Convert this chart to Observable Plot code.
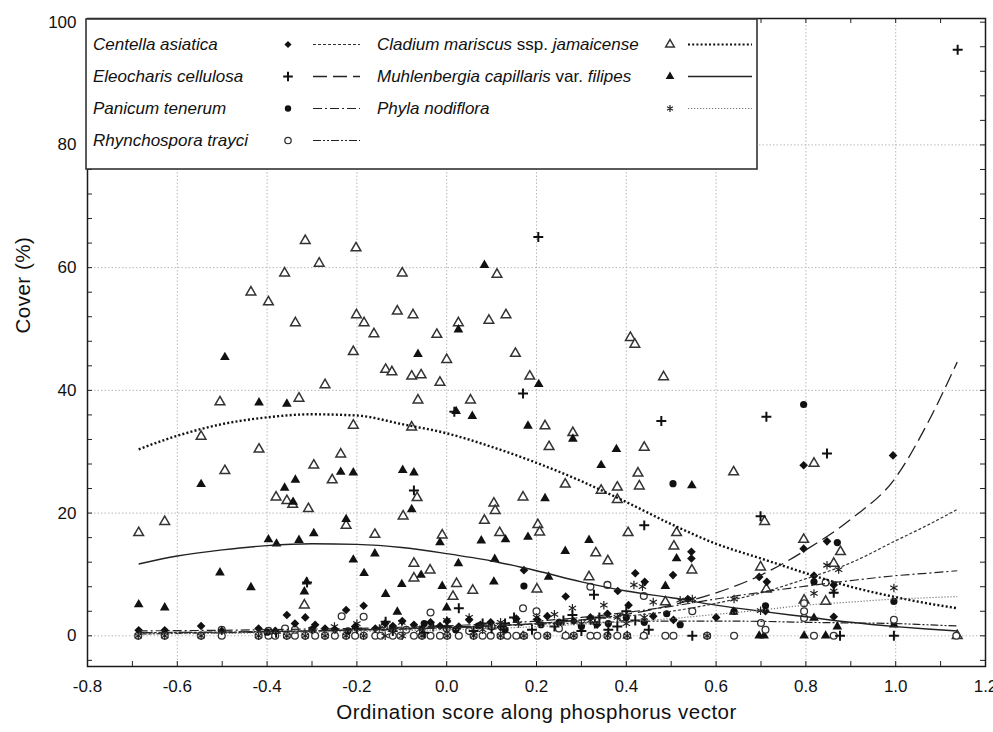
<!DOCTYPE html>
<html><head><meta charset="utf-8">
<script src="https://cdn.jsdelivr.net/npm/d3@7"></script>
<script src="https://cdn.jsdelivr.net/npm/@observablehq/plot@0.6"></script>
<style>body{margin:0;background:#fff}#chart{width:993px;height:732px}</style>
</head><body><div id="chart"></div>
<script>
// ---------- data ----------
const xTicks = [-0.8,-0.6,-0.4,-0.2,0.0,0.2,0.4,0.6,0.8,1.0,1.2];
const xGrid = [-0.6,-0.4,-0.2,0.0,0.2,0.4,0.6,0.8,1.0];
const xMinor = [-0.7,-0.6,-0.5,-0.4,-0.3,-0.2,-0.1,0.0,0.1,0.2,0.3,0.4,0.5,0.6,0.7,0.8,0.9,1.0,1.1];
const yTicks = [0,20,40,60,80,100];
const yGrid = [0,20,40,60,80];
const yMinor = [-4,0,4,8,12,16,20,24,28,32,36,40,44,48,52,56,60,64,68,72,76,80,84,88,92,96,100];

const cladium = [[-0.686,16.8],[-0.628,18.6],[-0.547,32.5],[-0.505,38.1],[-0.494,26.9],[-0.436,56.0],[-0.397,54.4],[-0.418,30.4],[-0.380,22.6],[-0.361,59.1],[-0.337,51.0],[-0.356,22.0],[-0.343,21.4],[-0.329,38.7],[-0.315,64.4],[-0.308,20.7],[-0.317,5.0],[-0.296,27.8],[-0.284,60.7],[-0.271,40.9],[-0.255,25.4],[-0.236,29.6],[-0.224,18.0],[-0.208,46.3],[-0.208,34.3],[-0.202,63.2],[-0.201,52.3],[-0.184,51.0],[-0.162,49.2],[-0.160,16.5],[-0.136,43.4],[-0.122,43.0],[-0.110,52.9],[-0.099,59.1],[-0.075,52.3],[-0.078,42.3],[-0.057,42.5],[-0.064,38.4],[-0.078,34.0],[-0.097,19.5],[-0.066,22.5],[-0.073,11.8],[-0.073,9.4],[-0.037,10.7],[-0.022,49.1],[-0.015,41.3],[0.000,45.0],[-0.010,16.4],[0.022,8.5],[0.014,6.4],[0.026,51.0],[0.053,38.4],[0.058,7.4],[0.084,18.8],[0.105,21.6],[0.108,20.4],[0.112,58.9],[0.094,51.4],[0.118,16.8],[0.132,52.3],[0.153,46.0],[0.170,22.6],[0.185,42.3],[0.219,34.2],[0.228,30.8],[0.203,18.1],[0.207,16.9],[0.201,7.6],[0.264,24.7],[0.281,33.1],[0.332,13.5],[0.344,23.7],[0.359,12.2],[0.317,9.6],[0.380,24.2],[0.380,22.2],[0.409,48.6],[0.419,47.5],[0.440,30.7],[0.426,26.5],[0.429,24.4],[0.404,16.8],[0.483,42.2],[0.512,16.8],[0.506,14.6],[0.546,10.7],[0.487,5.5],[0.639,26.7],[0.699,11.2],[0.708,18.6],[0.712,7.6],[0.795,15.7],[0.818,28.1],[0.877,13.7],[0.862,11.8],[0.796,5.8],[0.844,5.6],[1.137,0.0]];

const muhlenbergia = [[-0.686,5.1],[-0.628,4.6],[-0.547,24.7],[-0.494,45.4],[-0.505,10.3],[-0.436,7.9],[-0.418,38.0],[-0.356,37.8],[-0.397,15.7],[-0.379,15.0],[-0.361,24.1],[-0.342,21.8],[-0.337,25.4],[-0.329,15.6],[-0.296,16.7],[-0.317,7.2],[-0.312,8.8],[-0.236,26.7],[-0.208,26.6],[-0.224,19.0],[-0.208,12.4],[-0.184,10.2],[-0.160,13.4],[-0.136,6.8],[-0.110,3.9],[-0.098,27.0],[-0.073,26.6],[-0.078,20.6],[-0.064,45.9],[-0.100,8.4],[-0.057,9.9],[-0.010,8.1],[-0.015,15.2],[0.000,4.6],[0.026,49.9],[0.021,36.6],[0.026,11.8],[0.057,35.8],[0.077,15.5],[0.084,60.4],[0.107,12.5],[0.105,8.8],[0.131,15.7],[0.181,34.2],[0.181,16.1],[0.205,41.0],[0.219,22.4],[0.227,9.6],[0.264,13.8],[0.281,32.1],[0.317,15.6],[0.344,27.8],[0.378,30.4],[0.512,12.6],[0.546,24.5],[0.487,8.1],[0.639,3.9],[0.696,0],[0.707,0],[0.796,0],[0.844,0],[0.818,2.9],[0.870,1.5],[0.996,1.8],[0.170,0],[0.265,0],[0.402,0],[0.439,0]];

const eleocharis = [[-0.311,8.7],[-0.380,0.5],[-0.200,1.2],[-0.136,2.3],[-0.120,0.8],[-0.073,23.7],[-0.050,0.5],[-0.030,1.5],[0.000,1.5],[0.017,36.5],[0.027,4.5],[0.060,0.8],[0.080,2.0],[0.100,1.2],[0.130,2.0],[0.150,3.0],[0.170,39.5],[0.190,1.0],[0.204,65.0],[0.240,1.5],[0.260,2.5],[0.280,3.4],[0.300,0.8],[0.328,6.7],[0.330,2.0],[0.340,3.0],[0.360,1.0],[0.380,1.5],[0.400,4.0],[0.420,2.5],[0.440,18.0],[0.450,1.0],[0.478,35.0],[0.547,0],[0.699,19.5],[0.712,35.7],[0.847,29.7],[0.862,7.0],[0.876,0],[0.996,0],[1.138,95.5]];

const centella = [[-0.686,0.9],[-0.628,0.9],[-0.547,1.6],[-0.501,0.8],[-0.419,1.2],[-0.382,0.8],[-0.356,3.4],[-0.338,2.0],[-0.315,3.0],[-0.293,1.8],[-0.271,1.2],[-0.249,1.0],[-0.224,4.2],[-0.204,1.5],[-0.185,4.9],[-0.159,1.2],[-0.137,2.0],[-0.120,1.6],[-0.099,2.4],[-0.073,1.8],[-0.055,1.2],[-0.036,2.2],[-0.015,1.6],[0.001,2.4],[0.027,1.5],[0.050,2.6],[0.075,1.8],[0.098,2.2],[0.120,1.4],[0.155,2.8],[0.172,10.7],[0.202,2.6],[0.224,3.2],[0.265,6.4],[0.283,2.4],[0.320,3.0],[0.335,1.8],[0.358,3.6],[0.381,7.3],[0.405,5.0],[0.420,10.2],[0.441,8.8],[0.460,3.2],[0.504,9.9],[0.505,2.6],[0.537,6.0],[0.545,13.7],[0.545,12.6],[0.600,3.0],[0.696,9.6],[0.713,8.8],[0.710,4.0],[0.795,14.2],[0.795,27.8],[0.818,9.8],[0.847,15.4],[0.862,8.3],[0.862,3.1],[0.994,29.4]];

const panicum = [[-0.400,0.6],[-0.300,1.0],[-0.220,0.8],[-0.120,1.2],[-0.050,2.0],[0.020,1.0],[0.070,1.6],[0.130,1.0],[0.172,8.1],[0.210,1.8],[0.250,2.2],[0.300,1.5],[0.360,2.0],[0.400,3.0],[0.440,2.2],[0.490,3.6],[0.504,24.8],[0.520,1.8],[0.640,4.0],[0.710,4.9],[0.795,37.7],[0.818,8.8],[0.870,15.2],[0.996,5.6]];

const rhynchospora = [[-0.687,0],[-0.628,0],[-0.547,0],[-0.501,0],[-0.419,0],[-0.397,0],[-0.382,0],[-0.356,0],[-0.338,0],[-0.315,0],[-0.293,0],[-0.271,0],[-0.249,0],[-0.224,0],[-0.204,0],[-0.185,0],[-0.159,0],[-0.147,0],[-0.120,0],[-0.103,0],[-0.073,0],[-0.055,0],[-0.036,0],[-0.015,0],[0.001,0],[0.027,0],[0.060,0],[0.080,0],[0.098,0],[0.120,0],[0.135,0],[0.155,0],[0.172,0],[0.202,0],[0.224,0],[0.265,0],[0.283,0],[0.320,0],[0.335,0],[0.358,0],[0.380,0],[0.402,0],[0.439,0],[0.487,0],[0.505,0],[0.580,0],[0.640,0],[0.818,0],[0.862,0],[1.135,0],
 [-0.501,1.0],[-0.397,0.8],[-0.360,1.2],[-0.338,1.0],[-0.234,3.2],[-0.185,3.1],[-0.140,1.4],[-0.090,1.0],[-0.036,3.8],[0.000,1.2],[0.050,0.8],[0.100,1.5],[0.170,4.5],[0.200,4.0],[0.250,1.2],[0.320,8.0],[0.358,8.3],[0.390,3.0],[0.439,6.5],[0.547,4.0],[0.700,2.1],[0.710,1.0],[0.796,5.3],[0.796,4.0],[0.796,2.9],[0.844,8.7],[0.996,2.6]];

const phyla = [[-0.687,0],[-0.628,0],[-0.547,0],[-0.419,0],[-0.356,0],[-0.315,0],[-0.271,0],[-0.224,0],[-0.185,0],[-0.137,0],[-0.099,0],[-0.055,0],[0.001,0],[0.060,0],[0.120,0],[0.172,0],[0.224,0],[0.283,0],[0.358,0],[0.402,0],[0.580,0],
 [-0.300,1.0],[-0.250,1.5],[-0.200,2.0],[-0.150,1.2],[-0.100,2.2],[-0.060,1.0],[0.000,2.5],[0.050,3.0],[0.080,1.0],[0.120,2.2],[0.160,2.0],[0.200,3.0],[0.240,3.5],[0.280,4.5],[0.300,2.0],[0.320,2.5],[0.350,5.0],[0.380,3.0],[0.400,2.0],[0.417,8.3],[0.436,8.0],[0.440,3.0],[0.460,5.5],[0.520,5.8],[0.547,6.0],[0.640,6.0],[0.699,4.1],[0.818,6.9],[0.847,11.5],[0.862,7.3],[0.873,10.8],[0.996,7.8]];

// fitted curves, sampled along the score axis
const curveX = [-0.686,-0.6,-0.5,-0.4,-0.3,-0.2,-0.1,0.0,0.1,0.2,0.3,0.4,0.5,0.6,0.7,0.8,0.9,1.0,1.07,1.137];
const cladiumFit      = [30.4,32.6,34.5,35.6,36.1,35.9,34.5,33.0,30.8,28.2,25.2,21.8,18.2,15.0,12.6,10.2,8.0,6.3,5.3,4.5];
const muhlenbergiaFit = [11.7,13.0,14.0,14.7,15.0,14.9,14.4,13.4,12.2,10.6,8.8,7.3,6.2,5.0,4.0,3.1,2.2,1.5,1.1,0.8];
const eleocharisFit   = [0.5,0.55,0.6,0.7,0.8,0.95,1.1,1.3,1.6,2.0,2.6,3.5,5.0,7.0,9.9,14.0,19.0,25.8,34.5,44.6];
const centellaFit     = [0.5,0.55,0.6,0.7,0.8,0.9,1.1,1.3,1.6,2.0,2.5,3.2,4.0,5.3,7.0,9.3,11.9,15.5,18.0,20.6];
const panicumFit      = [0.8,0.85,0.9,1.0,1.1,1.2,1.4,1.6,2.0,2.4,3.0,3.8,4.8,6.0,7.1,8.1,9.0,9.8,10.2,10.6];
const rhynchosporaFit = [0.3,0.4,0.5,0.6,0.8,1.0,1.2,1.4,1.65,1.9,2.1,2.3,2.4,2.4,2.35,2.2,2.1,2.0,1.8,1.6];
const phylaFit        = [0.3,0.35,0.4,0.5,0.6,0.7,0.85,1.0,1.2,1.5,1.9,2.3,2.8,3.5,4.2,5.0,5.5,6.0,6.2,6.4];

// ---------- build ----------
const W = 993, H = 732, mL = 87, mR = 8, mT = 18, mB = 66;
const innerW = W - mL - mR, innerH = H - mT - mB;
const FONT = "'Liberation Sans', Arial, sans-serif";
const rows = pairs => pairs.map(([x, y]) => ({x, y}));
const fit = ys => curveX.map((x, i) => ({x, y: ys[i]}));

const styles = {
  centella:     {symbol: "diamond2", fill: "#111", stroke: "none", r: 3.9, dash: "3,2", lw: 1.2, lc: "#333"},
  eleocharis:   {symbol: "plus", fill: "none", stroke: "#111", sw: 2, r: 3.3, dash: "14,6", lw: 1.3, lc: "#222"},
  panicum:      {symbol: "circle", fill: "#111", stroke: "none", r: 3.6, dash: "9,3,2,3", lw: 1.2, lc: "#222"},
  rhynchospora: {symbol: "circle", fill: "white", stroke: "#333", sw: 1.3, r: 3.4, dash: "8,2,2,2,2,2", lw: 1.2, lc: "#222"},
  cladium:      {symbol: "triangle", fill: "white", stroke: "#333", sw: 1.5, r: 3.6, dash: "2,2.2", lw: 2.4, lc: "#111"},
  muhlenbergia: {symbol: "triangle", fill: "#111", stroke: "none", r: 3.6, dash: null, lw: 1.4, lc: "#222"},
  phyla:        {symbol: "asterisk", fill: "none", stroke: "#222", sw: 1.2, r: 4.0, dash: "1.2,1.8", lw: 1.2, lc: "#777"}
};
const pts = {cladium, muhlenbergia, rhynchospora, phyla, panicum, centella, eleocharis};
const fits = {cladium: cladiumFit, muhlenbergia: muhlenbergiaFit, eleocharis: eleocharisFit, centella: centellaFit,
  panicum: panicumFit, rhynchospora: rhynchosporaFit, phyla: phylaFit};

const dotMarks = Object.keys(pts).map(k => {
  const s = styles[k];
  return Plot.dot(rows(pts[k]), {x: "x", y: "y", symbol: s.symbol, r: s.r, fill: s.fill,
    stroke: s.stroke, strokeWidth: s.sw || 1});
});
const lineMarks = Object.keys(fits).map(k => {
  const s = styles[k];
  return Plot.line(fit(fits[k]), {x: "x", y: "y", curve: "monotone-x", stroke: s.lc,
    strokeWidth: s.lw, strokeDasharray: s.dash || undefined, strokeLinecap: "butt"});
});

const chart = Plot.plot({
  width: W, height: H, marginLeft: mL, marginRight: mR, marginTop: mT, marginBottom: mB,
  x: {domain: [-0.8, 1.2]},
  y: {domain: [-5, 100.6]},
  style: {fontFamily: FONT, background: "white", color: "#111"},
  marks: [
    Plot.gridX(xGrid, {stroke: "#b8b8b8", strokeOpacity: 1, strokeDasharray: "1.5,2"}),
    Plot.gridY(yGrid, {stroke: "#b8b8b8", strokeOpacity: 1, strokeDasharray: "1.5,2"}),
    ...dotMarks,
    ...lineMarks,
    Plot.tickX(xMinor, {insetTop: innerH - 5, stroke: "#222"}),
    Plot.tickX(xMinor, {insetBottom: innerH - 5, stroke: "#222"}),
    Plot.tickY(yMinor, {insetRight: innerW - 5, stroke: "#222"}),
    Plot.tickY(yMinor, {insetLeft: innerW - 5, stroke: "#222"}),
    Plot.axisX(xTicks, {tickSize: 0, tickPadding: 13, fontSize: 17, tickFormat: d => d.toFixed(1), label: null}),
    Plot.axisY(yTicks, {tickSize: 0, tickPadding: 11, fontSize: 17, label: null}),
    Plot.text(["Ordination score along phosphorus vector"], {frameAnchor: "bottom", dy: 52, fontSize: 20.5, text: d => d}),
    Plot.text(["Cover (%)"], {frameAnchor: "left", dx: -64, dy: -9, rotate: -90, fontSize: 20.5, text: d => d}),
    Plot.frame({stroke: "#1a1a1a", strokeWidth: 1.5})
  ]
});
document.getElementById("chart").appendChild(chart);
// letter spacing on the axis titles
d3.select(chart).selectAll("text").filter(function() {
  const t = this.textContent; return t === "Ordination score along phosphorus vector" || t === "Cover (%)";
}).attr("letter-spacing", "0.5px");

// ---------- legend (inside the plot area, like the original) ----------
const legendKeys = ["centella","eleocharis","panicum","rhynchospora","cladium","muhlenbergia","phyla"];
const legendParts = [
  [["Centella asiatica", true]],
  [["Eleocharis cellulosa", true]],
  [["Panicum tenerum", true]],
  [["Rhynchospora trayci", true]],
  [["Cladium mariscus", true], [" ssp. ", false], ["jamaicense", true]],
  [["Muhlenbergia capillaris", true], [" var. ", false], ["filipes", true]],
  [["Phyla nodiflora", true]]
];
const symMap = {diamond2: d3.symbolDiamond2, plus: d3.symbolPlus, circle: d3.symbolCircle,
  triangle: d3.symbolTriangle, asterisk: d3.symbolAsterisk};
const lg = d3.select(chart).append("g").attr("font-family", FONT).attr("font-size", 17).attr("text-anchor", "start");
lg.append("rect").attr("x", 86).attr("y", 19).attr("width", 671).attr("height", 150)
  .attr("fill", "white").attr("stroke", "#333").attr("stroke-width", 1.6);
legendKeys.forEach((k, i) => {
  const col = i < 4 ? 0 : 1, row = i < 4 ? i : i - 4;
  const ty = 44.5 + row * 32;
  const tx = col === 0 ? 93 : 377, sx = col === 0 ? 288 : 670, lx1 = col === 0 ? 313 : 688, lx2 = col === 0 ? 360 : 752;
  const s = styles[k];
  const t = lg.append("text").attr("x", tx).attr("y", ty).attr("dy", "0.35em").attr("fill", "#111");
  legendParts[i].forEach(([str, it]) => t.append("tspan").attr("font-style", it ? "italic" : "normal").text(str));
  lg.append("path").attr("transform", `translate(${sx},${ty})`)
    .attr("d", d3.symbol(symMap[s.symbol], Math.PI * 3.2 * 3.2)())
    .attr("fill", s.fill).attr("stroke", s.stroke).attr("stroke-width", s.sw || 1);
  lg.append("line").attr("x1", lx1).attr("x2", lx2).attr("y1", ty).attr("y2", ty)
    .attr("stroke", s.lc).attr("stroke-width", Math.min(s.lw, 2.2)).attr("stroke-dasharray", s.dash);
});
</script></body></html>
